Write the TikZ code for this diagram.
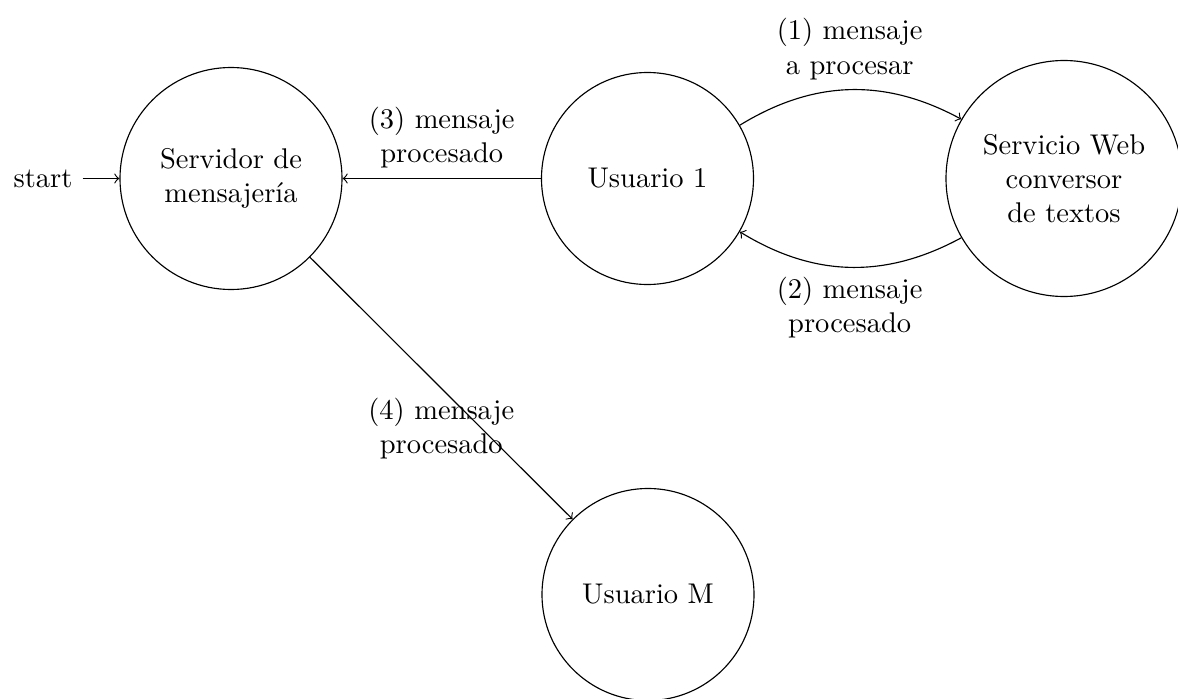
\documentclass[tikz,border=0pt]{standalone}
\usepackage{fontspec}
\usetikzlibrary{automata}
\begin{document}
\begin{tikzpicture}[x=0.35088pt,y=0.35088pt,>=to,
  st/.style={circle,draw,align=center,inner sep=0pt},
  lbl/.style={align=center}]
\useasboundingbox (0,0) rectangle (1178,698);
\node[st,minimum size=77.9pt,initial,initial text=start] (srv) at (231,519.5) {Servidor de\\mensajería};
\node[st,minimum size=74.4pt] (u1) at (647.5,519.5) {Usuario 1};
\node[st,minimum size=82.8pt] (sw) at (1064,519.5) {Servicio Web\\conversor\\de textos};
\node[st,minimum size=74.4pt] (um) at (648,103.5) {Usuario M};
\path[->]
  (u1) edge[bend left] node[above,lbl] {(1) mensaje\\a procesar} (sw)
  (sw) edge[bend left] node[below,lbl] {(2) mensaje\\procesado} (u1)
  (u1) edge node[above,lbl] {(3) mensaje\\procesado} (srv)
  (srv) edge node[below,lbl] {(4) mensaje\\procesado} (um);
\end{tikzpicture}
\end{document}
